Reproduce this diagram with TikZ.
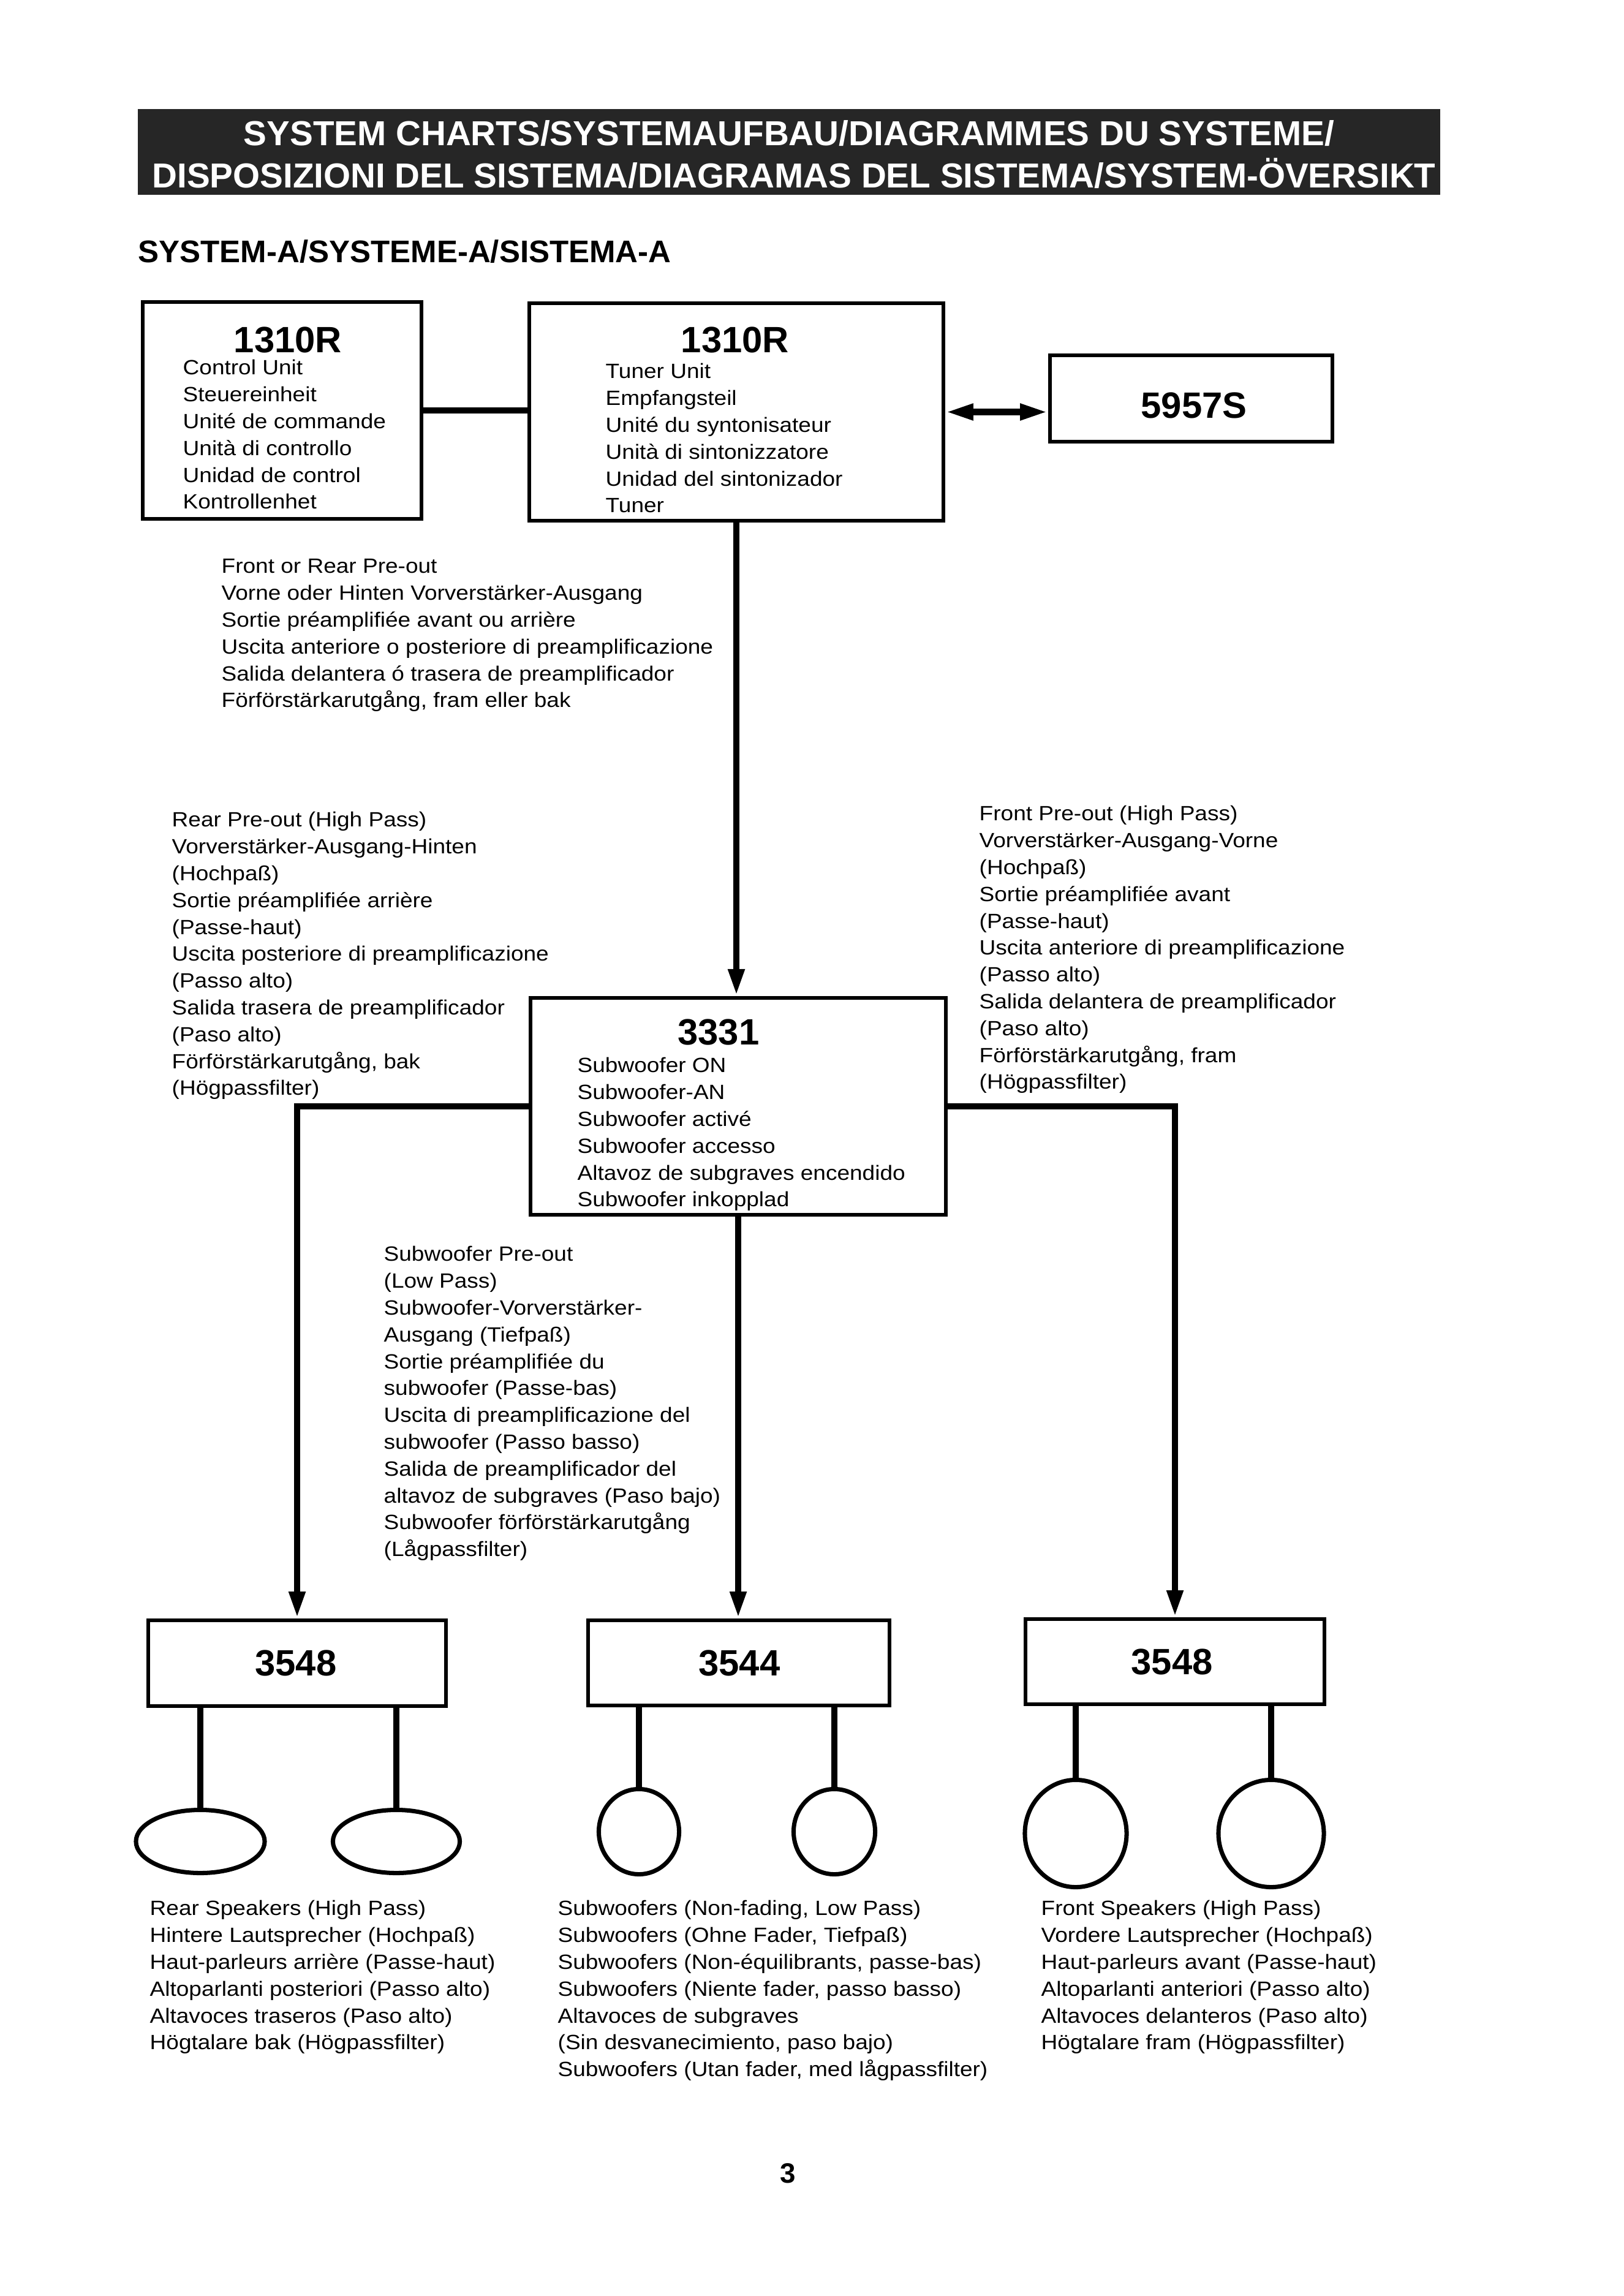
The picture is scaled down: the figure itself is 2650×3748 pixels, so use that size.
\documentclass[tikz,border=0pt]{standalone}
\usepackage{fontspec}
\setmainfont{Liberation Sans}
\newfontfamily\lblfont[FakeStretch=1.1]{Liberation Sans}
\usetikzlibrary{arrows.meta,shapes.geometric}
\newcommand\lstrut{\rule{0pt}{0.34cm}}
\tikzset{
  unitbox/.style={draw=black, line width=1.7pt, rectangle, inner sep=0pt, fill=white},
  conn/.style={line width=3.1pt},
  arr/.style={conn, -{Triangle[length=12.5pt,width=7pt]}},
  dblarr/.style={conn, {Triangle[length=13pt,width=7pt]}-{Triangle[length=13pt,width=7pt]}},
  spk/.style={draw, ellipse, line width=2pt, inner sep=0pt},
  lbl/.style={anchor=north west, inner sep=0pt, align=left, font=\fontsize{9.57pt}{12.46pt}\lblfont},
  num/.style={anchor=base, inner sep=0pt, font=\fontsize{17pt}{20pt}\selectfont\bfseries},
  ttl/.style={anchor=base, inner sep=0pt, text=white, font=\fontsize{16.1pt}{19pt}\selectfont\bfseries},
}
\begin{document}
\begin{tikzpicture}[x=0.01cm, y=-0.01cm]
\useasboundingbox (0,0) rectangle (2650,3748);
\fill[white] (0,0) rectangle (2650,3748);

% title bar
\node[fill=black!85, minimum width=21.24cm, minimum height=1.40cm, inner sep=0pt] (bar) at (1288,248) {};
\node[ttl] (tt1) at (1288,237) {SYSTEM CHARTS/SYSTEMAUFBAU/DIAGRAMMES DU SYSTEME/};
\node[ttl] (tt2) at (1296,306) {DISPOSIZIONI DEL SISTEMA/DIAGRAMAS DEL SISTEMA/SYSTEM-ÖVERSIKT};
\node[anchor=base west, inner sep=0pt, font=\fontsize{14.5pt}{17pt}\selectfont\bfseries] (sub) at (225,428) {SYSTEM-A/SYSTEME-A/SISTEMA-A};

% boxes
\node[unitbox, minimum width=4.55cm, minimum height=3.54cm] (b1) at (460.5,670) {};
\node[unitbox, minimum width=6.76cm, minimum height=3.55cm] (b2) at (1202,672.5) {};
\node[unitbox, minimum width=4.61cm, minimum height=1.41cm] (b5) at (1944.5,650.5) {};
\node[unitbox, minimum width=6.78cm, minimum height=3.54cm] (b3) at (1205,1806) {};
\node[unitbox, minimum width=4.86cm, minimum height=1.40cm] (bL) at (485,2715) {};
\node[unitbox, minimum width=4.92cm, minimum height=1.39cm] (bM) at (1206,2714.5) {};
\node[unitbox, minimum width=4.88cm, minimum height=1.39cm] (bR) at (1918,2712.5) {};

% speakers
\node[spk, minimum width=2.10cm, minimum height=1.03cm] (sL1) at (327,3006) {};
\node[spk, minimum width=2.07cm, minimum height=1.03cm] (sL2) at (647,3006) {};
\node[spk, minimum width=1.31cm, minimum height=1.39cm] (sM1) at (1043,2990) {};
\node[spk, minimum width=1.33cm, minimum height=1.39cm] (sM2) at (1362,2990) {};
\node[spk, minimum width=1.66cm, minimum height=1.75cm] (sR1) at (1756,2993) {};
\node[spk, minimum width=1.72cm, minimum height=1.75cm] (sR2) at (2075,2993) {};

% connectors
\draw[conn] (b1.east) -- (b1.east -| b2.west);
\draw[dblarr] (b2.east) -- (b2.east -| b5.west);
\draw[arr] (b2.south) -- (b2.south |- b3.north);
\draw[arr] (b3.west) -| (bL.north);
\draw[arr] (b3.east) -| (bR.north);
\draw[arr] (b3.south) -- (b3.south |- bM.north);
\draw[conn] (bL.south -| sL1.north) -- (sL1.north);
\draw[conn] (bL.south -| sL2.north) -- (sL2.north);
\draw[conn] (bM.south -| sM1.north) -- (sM1.north);
\draw[conn] (bM.south -| sM2.north) -- (sM2.north);
\draw[conn] (bR.south -| sR1.north) -- (sR1.north);
\draw[conn] (bR.south -| sR2.north) -- (sR2.north);

% numbers
\node[num] (n1) at (470,575) {1310R};
\node[num] (n2) at (1200,575) {1310R};
\node[num] (n3) at (1949,682) {5957S};
\node[num] (n4) at (1173,1705) {3331};
\node[num] (n5) at (483,2735) {3548};
\node[num] (n6) at (1207,2735) {3544};
\node[num] (n7) at (1913,2733) {3548};

% texts
\node[lbl] (t1) at (298,577) {\lstrut Control Unit\\Steuereinheit\\Unité de commande\\Unità di controllo\\Unidad de control\\Kontrollenhet};
\node[lbl] (t2) at (988,583) {\lstrut Tuner Unit\\Empfangsteil\\Unité du syntonisateur\\Unità di sintonizzatore\\Unidad del sintonizador\\Tuner};
\node[lbl] (t3) at (361,901) {\lstrut Front or Rear Pre-out\\Vorne oder Hinten Vorverstärker-Ausgang\\Sortie préamplifiée avant ou arrière\\Uscita anteriore o posteriore di preamplificazione\\Salida delantera ó trasera de preamplificador\\Förförstärkarutgång, fram eller bak};
\node[lbl] (t4) at (280,1315) {\lstrut Rear Pre-out (High Pass)\\Vorverstärker-Ausgang-Hinten\\(Hochpaß)\\Sortie préamplifiée arrière\\(Passe-haut)\\Uscita posteriore di preamplificazione\\(Passo alto)\\Salida trasera de preamplificador\\(Paso alto)\\Förförstärkarutgång, bak\\(Högpassfilter)};
\node[lbl] (t5) at (1598,1305) {\lstrut Front Pre-out (High Pass)\\Vorverstärker-Ausgang-Vorne\\(Hochpaß)\\Sortie préamplifiée avant\\(Passe-haut)\\Uscita anteriore di preamplificazione\\(Passo alto)\\Salida delantera de preamplificador\\(Paso alto)\\Förförstärkarutgång, fram\\(Högpassfilter)};
\node[lbl] (t6) at (942,1716) {\lstrut Subwoofer ON\\Subwoofer-AN\\Subwoofer activé\\Subwoofer accesso\\Altavoz de subgraves encendido\\Subwoofer inkopplad};
\node[lbl] (t7) at (626,2024) {\lstrut Subwoofer Pre-out\\(Low Pass)\\Subwoofer-Vorverstärker-\\Ausgang (Tiefpaß)\\Sortie préamplifiée du\\subwoofer (Passe-bas)\\Uscita di preamplificazione del\\subwoofer (Passo basso)\\Salida de preamplificador del\\altavoz de subgraves (Paso bajo)\\Subwoofer förförstärkarutgång\\(Lågpassfilter)};
\node[lbl] (t8) at (244,3092) {\lstrut Rear Speakers (High Pass)\\Hintere Lautsprecher (Hochpaß)\\Haut-parleurs arrière (Passe-haut)\\Altoparlanti posteriori (Passo alto)\\Altavoces traseros (Paso alto)\\Högtalare bak (Högpassfilter)};
\node[lbl] (t9) at (910,3092) {\lstrut Subwoofers (Non-fading, Low Pass)\\Subwoofers (Ohne Fader, Tiefpaß)\\Subwoofers (Non-équilibrants, passe-bas)\\Subwoofers (Niente fader, passo basso)\\Altavoces de subgraves\\(Sin desvanecimiento, paso bajo)\\Subwoofers (Utan fader, med lågpassfilter)};
\node[lbl] (t10) at (1699,3092) {\lstrut Front Speakers (High Pass)\\Vordere Lautsprecher (Hochpaß)\\Haut-parleurs avant (Passe-haut)\\Altoparlanti anteriori (Passo alto)\\Altavoces delanteros (Paso alto)\\Högtalare fram (Högpassfilter)};

% page number
\node[anchor=base, inner sep=0pt, font=\fontsize{13pt}{15pt}\selectfont\bfseries] (pg) at (1286,3563) {3};
\end{tikzpicture}
\end{document}
